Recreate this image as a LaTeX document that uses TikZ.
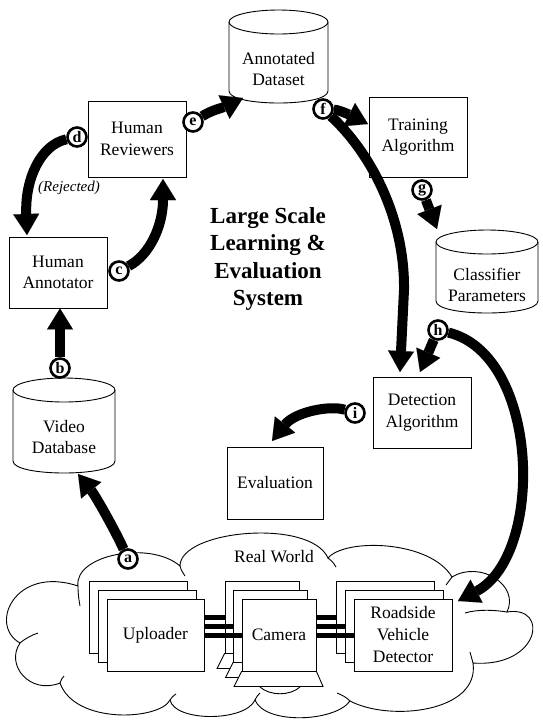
\documentclass[tikz,border=0pt]{standalone}
\usepackage{fontspec}
\setmainfont{Liberation Serif}
\usetikzlibrary{arrows.meta,calc}
\pgfdeclarelayer{fg}
\pgfsetlayers{main,fg}
\begin{document}
\begin{tikzpicture}[x=1pt,y=-1pt,
  box/.style={draw, line width=0.9pt, fill=white, align=center, inner sep=0pt, font=\fontsize{17.5}{21.5}\selectfont},
  txt/.style={align=center, inner sep=0pt, font=\fontsize{17.5}{21.5}\selectfont},
  cylline/.style={draw, line width=0.9pt},
  stackbox/.style={box, minimum height=72pt},
  trap/.style={draw, line width=0.9pt, fill=white},
  bar/.style={line width=5pt},
  arr/.style={line width=10pt, -{Triangle[width=26pt,length=21pt,line width=0.01pt]}},
  lbl/.style={circle, draw, line width=2.6pt, fill=white, inner sep=0pt, minimum size=19pt, font=\fontsize{16}{16}\bfseries\selectfont},
  cloudline/.style={draw, line width=0.9pt}]

\useasboundingbox (0,0) rectangle (542,721);

% ---------- cloud ----------
\path[cloudline, fill=white] (78,586)
  .. controls (74,555) and (150,540) .. (180,566)
  .. controls (180,530) and (310,518) .. (328,558)
  .. controls (345,538) and (430,540) .. (452,577)
  .. controls (480,560) and (520,585) .. (507,612)
  .. controls (550,605) and (540,668) .. (473,663)
  .. controls (480,712) and (390,722) .. (350,701)
  .. controls (335,722) and (265,725) .. (255,700)
  .. controls (245,722) and (175,722) .. (170,700)
  .. controls (160,720) and (75,725) .. (60,683)
  .. controls (30,695) and (5,665) .. (20,643)
  .. controls (-12,625) and (15,565) .. (78,586) -- cycle;
\draw[cloudline] (78,586) .. controls (78,595) and (79,600) .. (80,606);
\draw[cloudline] (180,566) .. controls (181,570) and (183,573) .. (185,576);
\draw[cloudline] (328,558) .. controls (331,560) and (333,562) .. (336,567);
\draw[cloudline] (452,577) .. controls (450,580) and (448,582) .. (446,585);
\draw[cloudline] (507,612) .. controls (495,610) and (478,609) .. (465,613);
\draw[cloudline] (473,663) .. controls (472,659) and (471,656) .. (470,652);
\draw[cloudline] (350,701) .. controls (346,697) and (342,695) .. (337,693);
\draw[cloudline] (255,700) .. controls (256,697) and (258,695) .. (260,693);
\draw[cloudline] (170,700) .. controls (171,698) and (173,696) .. (176,694);
\draw[cloudline] (60,683) .. controls (61,680) and (62,678) .. (64,676);
\draw[cloudline] (20,643) .. controls (26,638) and (32,635) .. (38,633);
\draw[cloudline] (260,687) .. controls (270,696) and (290,696) .. (300,687);

\node[txt] (rw) at (274,557) {Real World};

% ---------- stacks (back layer) ----------
\node[stackbox, minimum width=98pt] (u3) at (138,617) {};
\node[stackbox, minimum width=74pt] (c3) at (262,617) {};
\draw[trap] (c3.south west) -- ++(-7.5,15) -- ++(89,0) -- (c3.south east) -- cycle;
\node[stackbox, minimum width=98pt] (r3) at (385,617) {};
\draw[bar] (u3.east) -- (c3.west);
\draw[bar] (c3.east) -- (r3.west);
% middle layer
\node[stackbox, minimum width=98pt] (u2) at (147,626) {};
\node[stackbox, minimum width=74pt] (c2) at (270.5,626) {};
\draw[trap] (c2.south west) -- ++(-7.5,15) -- ++(89,0) -- (c2.south east) -- cycle;
\node[stackbox, minimum width=98pt] (r2) at (394.5,626) {};
\draw[bar] (u2.east) -- (c2.west);
\draw[bar] (c2.east) -- (r2.west);
% front layer
\node[stackbox, minimum width=97pt] (u1) at (155.5,635) {Uploader};
\node[stackbox, minimum width=74pt] (c1) at (279,635) {};
\draw[trap] (c1.south west) -- ++(-7.5,15) -- ++(89,0) -- (c1.south east) -- cycle;
\node[txt] (camtxt) at (c1) {Camera};
\node[stackbox, minimum width=98pt, font=\fontsize{17.5}{22}\selectfont] (r1) at (403,635) {Roadside\\Vehicle\\Detector};
\draw[bar] (u1.east) -- (c1.west);
\draw[bar] (c1.east) -- (r1.west);

% ---------- cylinders ----------
\draw[cylline] (229,22) -- (229,91) .. controls (229,107) and (328,107) .. (328,91) -- (328,22);
\draw[cylline] (278.5,22) ellipse (49.5pt and 12pt);
\node[txt] (ad) at (278.5,69) {Annotated\\Dataset};

\draw[cylline] (436,242) -- (436,301) .. controls (436,317) and (538,317) .. (538,301) -- (538,242);
\draw[cylline] (487,242) ellipse (51pt and 12pt);
\node[txt] (cp) at (487,285) {Classifier\\Parameters};

\draw[cylline] (13,390) -- (13,461) .. controls (13,477) and (115,477) .. (115,461) -- (115,390);
\draw[cylline] (64,390) ellipse (51pt and 12pt);
\node[txt] (vd) at (64,437) {Video\\Database};

% ---------- boxes ----------
\node[box, minimum width=98pt, minimum height=76pt] (hr) at (137,139) {Human\\Reviewers};
\node[box, minimum width=98pt, minimum height=71pt] (ha) at (58,272.5) {Human\\Annotator};
\node[box, minimum width=98pt, minimum height=80pt] (ta) at (418,137) {Training\\Algorithm};
\node[box, minimum width=98pt, minimum height=71pt] (da) at (422,412.5) {Detection\\Algorithm};
\node[box, minimum width=96pt, minimum height=72pt] (ev) at (275,483) {Evaluation};

% ---------- title ----------
\node[align=center, inner sep=0pt, font=\fontsize{23}{27.5}\bfseries\selectfont] (title) at (268,259)
  {Large Scale\\Learning \&\\Evaluation\\System};
\node[inner sep=0pt, font=\fontsize{15}{15}\itshape\selectfont] (rej) at (69,188) {(Rejected)};

% ---------- letter circles ----------
\begin{pgfonlayer}{fg}
\node[lbl] (a) at (128,559) {a};
\node[lbl] (b) at (60,368) {b};
\node[lbl] (c) at (119,271) {c};
\node[lbl] (d) at (77,137) {d};
\node[lbl] (e) at (193,122) {e};
\node[lbl] (f) at (323,109) {f};
\node[lbl] (g) at (422,190) {g};
\node[lbl] (h) at (438,330) {h};
\node[lbl] (i) at (355,413) {i};
\end{pgfonlayer}

% ---------- arrow ends ----------
\coordinate (aT) at (78,474);
\coordinate (cT) at (163,179);
\coordinate (dT) at (27,235);
\coordinate (eT) at (243,98);
\coordinate (f1T) at (368,124);
\coordinate (f2T) at (400,372);
\coordinate (gT) at (437,229);
\coordinate (h1T) at (420,372);
\coordinate (h2T) at (458,601);
\coordinate (iT) at (272,441);

% ---------- arrows ----------
\draw[arr] (a) .. controls (115,530) and (95,495) .. (aT);
\draw[arr] (b) -- (b |- ha.south);
\draw[arr] (c) .. controls (150,255) and (163,225) .. (cT);
\draw[arr] (d) .. controls (40,145) and (25,180) .. (dT);
\draw[arr] (e) .. controls (212,110) and (222,108) .. (eT);
\draw[arr] (f) .. controls (340,110) and (352,116) .. (f1T);
\draw[arr] (f) .. controls (368,150) and (405,215) .. (404,290) -- (f2T);
\draw[arr] (g) -- (gT);
\draw[arr] (h) -- (h1T);
\draw[arr] (h) .. controls (540,355) and (545,555) .. (h2T);
\draw[arr] (i) .. controls (330,405) and (295,412) .. (iT);
\end{tikzpicture}
\end{document}
